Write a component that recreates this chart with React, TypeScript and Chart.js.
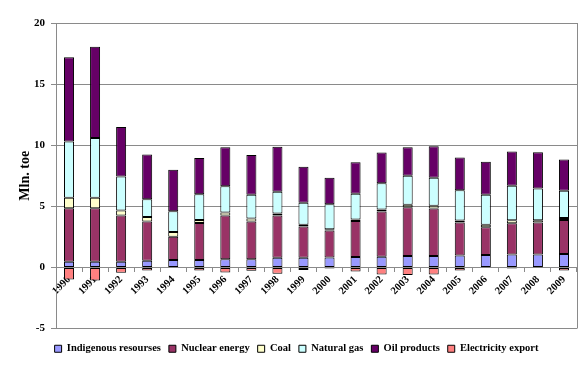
import React, { useEffect, useRef } from "react";
import { Chart, registerables } from "chart.js";

Chart.register(...registerables);

const years = ["1990","1991","1992","1993","1994","1995","1996","1997","1998","1999","2000","2001","2002","2003","2004","2005","2006","2007","2008","2009"];
const indigenous = [0.47,0.47,0.47,0.55,0.61,0.61,0.66,0.66,0.78,0.78,0.80,0.86,0.88,0.94,0.94,0.97,1.02,1.05,1.05,1.10];
const nuclear = [4.38,4.38,3.78,3.20,1.90,3.03,3.59,3.09,3.47,2.56,2.21,2.94,3.70,3.99,3.89,2.70,2.26,2.56,2.62,2.78];
const coal = [0.85,0.85,0.41,0.38,0.38,0.24,0.25,0.25,0.16,0.16,0.11,0.12,0.16,0.19,0.21,0.16,0.22,0.25,0.19,0.17];
const naturalGas = [4.60,4.88,2.78,1.44,1.71,2.10,2.14,1.95,1.79,1.79,2.04,2.11,2.15,2.38,2.29,2.48,2.45,2.83,2.59,2.23];
const oilProducts = [6.90,7.47,4.05,3.66,3.39,2.98,3.19,3.25,3.67,2.95,2.17,2.57,2.51,2.33,2.59,2.69,2.70,2.79,2.97,2.54];
const electricityExport = [-1.00,-1.07,-0.44,-0.25,0,-0.25,-0.41,-0.27,-0.52,-0.21,-0.10,-0.33,-0.58,-0.63,-0.58,-0.25,-0.03,-0.10,-0.03,-0.25];

const seriesNames = ["Indigenous resourses","Nuclear energy","Coal","Natural gas","Oil products","Electricity export"];
const seriesColors = ["#9999FF","#993366","#FFFFCC","#CCFFFF","#660066","#FF8080"];
const yTicks = [-5, 0, 5, 10, 15, 20];
const yTitle = "Mln. toe";

const FONT = "'Liberation Serif', 'Times New Roman', serif";
const GRID = "#8a8a8a";

const frameBorder = {
  id: "frameBorder",
  beforeDatasetsDraw(chart: any) {
    const { ctx, chartArea } = chart;
    ctx.save();
    ctx.strokeStyle = GRID;
    ctx.lineWidth = 1;
    ctx.beginPath();
    const x = Math.round(chartArea.right) + 0.5;
    ctx.moveTo(x, chartArea.top);
    ctx.lineTo(x, chartArea.bottom);
    ctx.stroke();
    ctx.restore();
  },
};

export default function App() {
  const ref = useRef<HTMLCanvasElement | null>(null);
  useEffect(() => {
    if (!ref.current) return;
    const values = [indigenous, nuclear, coal, naturalGas, oilProducts, electricityExport];
    const chart = new Chart(ref.current, {
      type: "bar",
      data: {
        labels: years,
        datasets: values.map((d, i) => ({
          label: seriesNames[i],
          data: d,
          backgroundColor: seriesColors[i],
          borderColor: "#000000",
          borderWidth: 1,
          borderSkipped: false,
          barPercentage: 0.385,
          categoryPercentage: 1,
          xAxisID: "x",
        })),
      },
      options: {
        responsive: false,
        animation: false,
        layout: { padding: { left: 16, right: 11, top: 23, bottom: 10 } },
        plugins: {
          tooltip: { enabled: false },
          legend: {
            position: "bottom",
            labels: {
              boxWidth: 7,
              boxHeight: 7,
              padding: 8,
              color: "#000",
              font: { family: FONT, size: 10.5, weight: "bold" },
            },
          },
        },
        scales: {
          x: {
            stacked: true,
            position: { y: 0 } as any,
            grid: { display: true, drawOnChartArea: false, tickLength: 4, color: GRID, offset: true },
            border: { display: true, color: GRID },
            ticks: {
              autoSkip: false,
              minRotation: 45,
              maxRotation: 45,
              padding: 2,
              color: "#000",
              font: { family: FONT, size: 10.5, weight: "bold" },
            },
          },
          spacer: {
            type: "category",
            axis: "x",
            position: "bottom",
            grid: { display: false, drawTicks: false },
            border: { display: false },
            ticks: { display: false },
            afterFit(scale: any) { scale.height = 7; },
          },
          y: {
            stacked: true,
            min: -5,
            max: 20,
            afterBuildTicks(scale: any) { scale.ticks = yTicks.map((v) => ({ value: v })); },
            grid: { color: GRID, tickLength: 5, tickColor: GRID },
            border: { display: true, color: GRID },
            ticks: {
              padding: 6,
              color: "#000",
              font: { family: FONT, size: 11, weight: "bold" },
            },
            title: {
              display: true,
              text: yTitle,
              color: "#000",
              padding: { top: 1, bottom: 0 },
              font: { family: FONT, size: 14, weight: "bold" },
            },
            afterFit(scale: any) { scale.width = 40; },
          },
        },
      } as any,
      plugins: [frameBorder],
    });
    return () => chart.destroy();
  }, []);
  return (
    <div style={{ position: "absolute", left: 0, top: 0, width: 588, height: 374, background: "#fff" }}>
      <canvas ref={ref} width={588} height={374} style={{ display: "block" }} />
    </div>
  );
}
